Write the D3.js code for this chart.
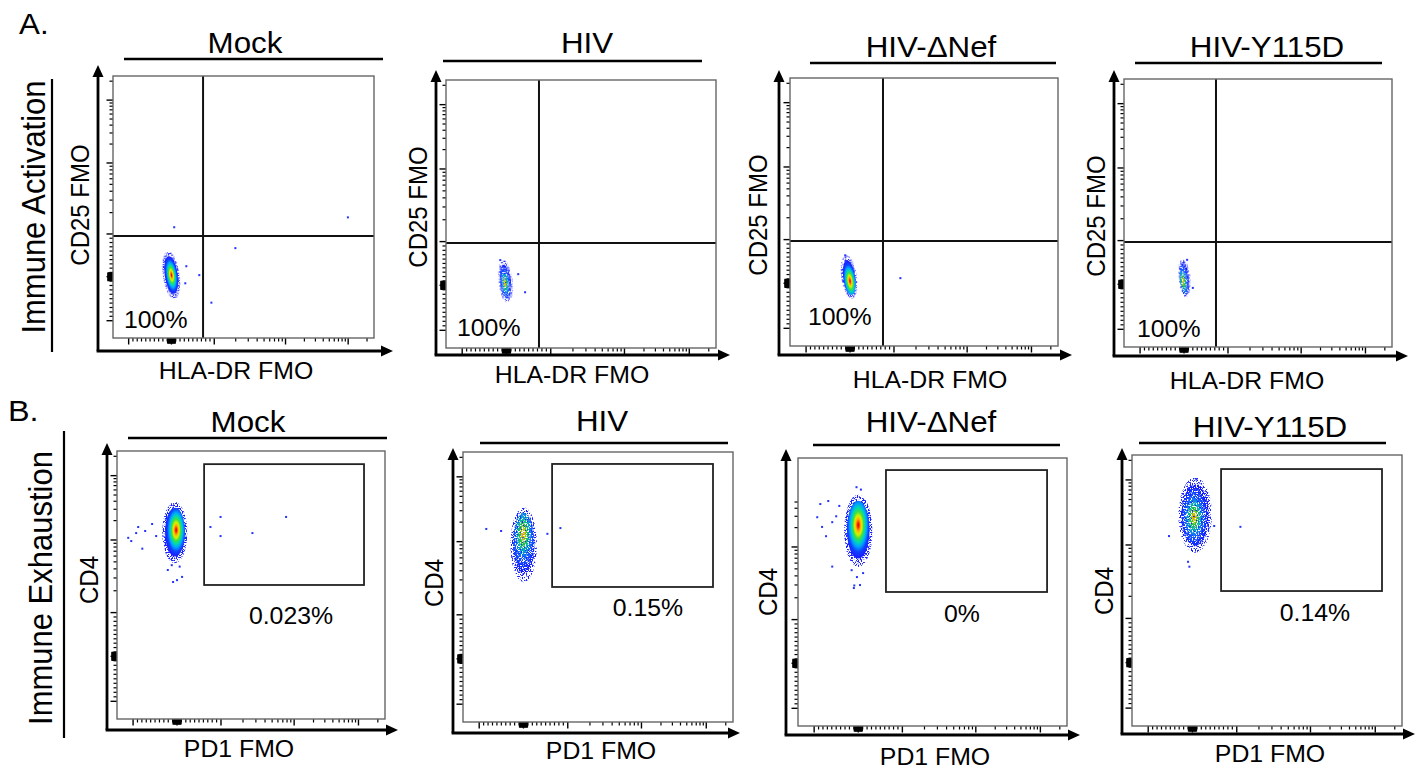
<!DOCTYPE html>
<html>
<head>
<meta charset="utf-8">
<script src="https://cdn.jsdelivr.net/npm/d3@7"></script>
<style>
  html, body { margin: 0; padding: 0; background: #ffffff; }
  svg { display: block; }
  text { font-family: "Liberation Sans", Arial, Helvetica, sans-serif; fill: #000; }
</style>
</head>
<body>
<svg id="chart" width="1424" height="769"></svg>
<script>
// ================= DATA =================
const rowLetters = ["A.", "B."];
const rowTitles = ["Immune Activation", "Immune Exhaustion"];
const conditions = ["Mock", "HIV", "HIV-ΔNef", "HIV-Y115D"];
const xAxisLabels = ["HLA-DR FMO", "PD1 FMO"];
const yAxisLabels = ["CD25 FMO", "CD4"];
const activationPercents = ["100%", "100%", "100%", "100%"];
const exhaustionPercents = ["0.023%", "0.15%", "0%", "0.14%"];

// biexponential axis ticks (channel values)
const majorTickValues = [-1000, 0, 1000, 10000, 100000];
const minorTickValues = [-900, -800, -700, -600, -500, -400, -300, -200, -100,
  100, 200, 300, 400, 500, 600, 700, 800, 900,
  2000, 3000, 4000, 5000, 6000, 7000, 8000, 9000,
  20000, 30000, 40000, 50000, 60000, 70000, 80000, 90000, 200000];
const nearZeroTickValues = [-90, -80, -70, -60, -50, -40, -30, -20, -10,
  10, 20, 30, 40, 50, 60, 70, 80, 90];
const activationYTickMax = [300000, 300000, 300000, 300000];
const exhaustionYTickMax = [300000, 300000, 50000, 300000];

// quadrant gate thresholds (HLA-DR, CD25)
const activationGateX = [738, 734, 750, 727];
const activationGateY = [951, 969, 969, 969];
// PD1+ rectangle gate: [low, high]
const exhaustionGateX = [[616, 122000], [646, 127000], [628, 127000], [646, 127000]];
const exhaustionGateY = [[2400, 151000], [2400, 158000], [2400, 157000], [2360, 147000]];

// cell populations: densest point, x extent and y extent
const activationCore = [[0, 37], [-30, 50], [0, 50], [-20, 70]];
const activationSpreadX = [[-195, 184], [-165, 130], [-180, 165], [-110, 141]];
const activationSpreadY = [[-500, 595], [-360, 550], [-337, 644], [-270, 552]];
const exhaustionCore = [[-20, 14260], [-5, 13200], [0, 21900], [37, 27000]];
const exhaustionSpreadX = [[-335, 233], [-280, 290], [-320, 320], [-300, 420]];
const exhaustionSpreadY = [[4800, 38800], [2950, 31800], [5300, 65000], [8300, 103000]];
const eventDensity = ["dense", "sparse", "dense", "sparse"];

// isolated events
const activationOutliers = [
  [[64, 1245], [1977, 669], [933, -590], [99000, 1714], [650, 37], [347, 245], [323, -150]],
  [[265, 255], [420, -155], [-140, 577]],
  [[1223, 118], [-110, 640]],
  [[200, -80], [70, 560]]
];
const exhaustionOutliers = [
  [[-1290, 10800], [-1100, 9660], [-930, 12800], [-884, 15900], [-790, 7590], [-725, 13800],
   [-567, 17700], [-475, 11500], [760, 15900], [990, 22800], [990, 11500], [2690, 12800], [7760, 22800],
   [-90, 2640], [0, 2800], [115, 3100], [-210, 3860], [60, 4300], [-120, 4500]],
  [[-840, 15700], [-505, 14600], [540, 13200], [834, 16200]],
  [[-860, 46500], [-680, 51800], [-930, 29000], [-820, 20500], [-730, 14700], [-590, 24300],
   [-430, 43500], [-590, 5370], [-90, 2950], [-500, 30000],
   [-100, 2720], [40, 2990], [-30, 3850], [110, 4370], [-150, 4790], [-40, 85000], [60, 78000]],
  [[-530, 13700], [1120, 19000], [490, 19600], [-70, 5060], [-100, 5900], [90, 103000]]
];

// ================= LAYOUT (positions / styles) =================
const X_FRACS = [0.06, 0.224, 0.388, 0.661, 0.901];
const Y_FRACS = [0.066, 0.234, 0.397, 0.668, 0.908];
const SX = 1.08;
const layout = [
  {box:[113,76,261,262], ax:98, ay:351, top:65, right:393, title:[245,53], line:[124,383,59], pct:[124,328,"start"], xl:[236,379], yl:[89,205], tilt:-8},
  {box:[446,80,270,268], ax:436, ay:355, top:70, right:730, title:[587,53], line:[443,702,61], pct:[457,336,"start"], xl:[572,383], yl:[427,207], tilt:-6},
  {box:[790,78,268,268], ax:779, ay:355, top:70, right:1072, title:[931,57], line:[810,1056,63], pct:[808,325,"start"], xl:[930,388], yl:[767,215], tilt:-8},
  {box:[1124,79,268,268], ax:1114, ay:356, top:70, right:1408, title:[1267,57], line:[1135,1382,63], pct:[1137,337,"start"], xl:[1247,389], yl:[1105,216], tilt:-5},
  {box:[117,451,268,268], ax:107, ay:730, top:443, right:398, title:[248,432], line:[128,387,438], pct:[291,624,"middle"], xl:[239,757], yl:[98,580], tilt:0},
  {box:[463,452,270,270], ax:453, ay:733, top:448, right:740, title:[602,431], line:[480,728,443], pct:[648,616,"middle"], xl:[601,759], yl:[443,583], tilt:0},
  {box:[798,458,269,268], ax:786, ay:735, top:449, right:1080, title:[931,432], line:[813,1060,445], pct:[962,622,"middle"], xl:[935,765], yl:[777,592], tilt:0},
  {box:[1132,455,270,271], ax:1122, ay:734, top:448, right:1415, title:[1270,437], line:[1139,1386,443], pct:[1315,621,"middle"], xl:[1270,762], yl:[1113,591], tilt:0}
];

// ================= DRAWING =================
const svg = d3.select("#chart");
svg.append("rect").attr("width", 1424).attr("height", 769).attr("fill", "#fff");
const defs = svg.append("defs");

function speckleFilter(id, slope, intercept, seed) {
  const f = defs.append("filter").attr("id", id)
    .attr("x", "-10%").attr("y", "-10%").attr("width", "120%").attr("height", "120%")
    .attr("color-interpolation-filters", "sRGB");
  f.append("feTurbulence").attr("type", "fractalNoise").attr("baseFrequency", 0.8)
    .attr("numOctaves", 1).attr("seed", seed).attr("result", "noise");
  f.append("feColorMatrix").attr("in", "noise").attr("type", "matrix")
    .attr("values", `0 0 0 0 0  0 0 0 0 0  0 0 0 0 0  ${slope} 0 0 0 ${intercept}`)
    .attr("result", "mask");
  f.append("feComposite").attr("in", "SourceGraphic").attr("in2", "mask").attr("operator", "in");
}
speckleFilter("speckleHalo", 14, -6.8, 5);
speckleFilter("speckleSparse", 12, -5.0, 9);
speckleFilter("speckleSparseOuter", 14, -7.2, 3);

const denseStops = [[0, "#c80000"], [0.08, "#ff3000"], [0.18, "#ffb000"], [0.28, "#d8f000"],
  [0.4, "#40e040"], [0.52, "#00d8b0"], [0.65, "#00a0ff"], [0.8, "#1040ff"], [1, "#1a1aff"]];
const sparseStops = [[0, "#ff7000"], [0.12, "#c8d800"], [0.26, "#20c040"], [0.42, "#00b0c0"],
  [0.6, "#1060ff"], [1, "#1010ff"]];

function makeScale(fracs, start, length, invert) {
  const linPart = d3.scaleLinear().domain([-1000, 1000]).range([-1, 1]);
  const logPart = d3.scaleLog().domain([1000, 10000]).range([1, 2]);
  const pos = d3.scaleLinear().domain([-1, 0, 1, 2, 3])
    .range(fracs.map(f => invert ? start + length - f * length : start + f * length));
  return v => pos(Math.abs(v) <= 1000 ? linPart(v) : Math.sign(v) * logPart(Math.abs(v)));
}

function hText(parent, str, x, y, size, anchor) {
  parent.append("text")
    .attr("transform", `translate(${x},${y}) scale(${SX},1)`)
    .attr("text-anchor", anchor).attr("font-size", size).text(str);
}
function vText(parent, str, x, y, size) {
  parent.append("text")
    .attr("transform", `translate(${x},${y}) rotate(-90) scale(1,${SX})`)
    .attr("text-anchor", "middle").attr("font-size", size).text(str);
}

let gradCount = 0;
function addGradient(stops, fx, fy) {
  const id = "g" + (gradCount++);
  const r = 0.5 + Math.max(Math.abs(fx - 0.5), Math.abs(fy - 0.5));
  const g = defs.append("radialGradient").attr("id", id)
    .attr("cx", fx).attr("cy", fy).attr("fx", fx).attr("fy", fy).attr("r", r);
  stops.forEach(s => g.append("stop").attr("offset", s[0]).attr("stop-color", s[1]));
  return id;
}

function drawCloud(g, sx, sy, core, spreadX, spreadY, density, tilt) {
  const x0 = sx(spreadX[0]), x1 = sx(spreadX[1]);
  const y0 = sy(spreadY[1]), y1 = sy(spreadY[0]);
  const cx = (x0 + x1) / 2, cy = (y0 + y1) / 2;
  const rx = (x1 - x0) / 2, ry = (y1 - y0) / 2;
  const px = sx(core[0]), py = sy(core[1]);
  const cg = g.append("g").attr("transform", `rotate(${tilt},${px},${py})`);
  if (density === "dense") {
    cg.append("ellipse").attr("cx", cx).attr("cy", cy).attr("rx", rx).attr("ry", ry)
      .attr("fill", "#1a22ff").attr("filter", "url(#speckleHalo)");
    const k = 0.8;
    const irx = rx * k, iry = ry * k;
    const icx = cx + (px - cx) * (1 - k), icy = cy + (py - cy) * (1 - k);
    const fx = (px - (icx - irx)) / (2 * irx), fy = (py - (icy - iry)) / (2 * iry);
    const id = addGradient(denseStops, fx, fy);
    cg.append("ellipse").attr("cx", icx).attr("cy", icy).attr("rx", irx).attr("ry", iry)
      .attr("fill", `url(#${id})`);
  } else {
    cg.append("ellipse").attr("cx", cx).attr("cy", cy).attr("rx", rx * 1.05).attr("ry", ry * 1.05)
      .attr("fill", "#1a22ff").attr("filter", "url(#speckleSparseOuter)");
    const k = 0.85;
    const irx = rx * k, iry = ry * k;
    const icx = cx + (px - cx) * (1 - k), icy = cy + (py - cy) * (1 - k);
    const fx = (px - (icx - irx)) / (2 * irx), fy = (py - (icy - iry)) / (2 * iry);
    const id = addGradient(sparseStops, fx, fy);
    cg.append("ellipse").attr("cx", icx).attr("cy", icy).attr("rx", irx).attr("ry", iry)
      .attr("fill", `url(#${id})`).attr("filter", "url(#speckleSparse)");
  }
}

function drawPanel(row, col) {
  const L = layout[row * 4 + col];
  const [bx, by, bw, bh] = L.box;
  const g = svg.append("g");
  const sx = makeScale(X_FRACS, bx, bw, false);
  const sy = makeScale(Y_FRACS, by, bh, true);
  const yMax = row === 0 ? activationYTickMax[col] : exhaustionYTickMax[col];

  // ticks
  const tickSets = [[majorTickValues, 6.5, 1.4], [nearZeroTickValues, 5.5, 1.3], [minorTickValues, 3.5, 1.2]];
  tickSets.forEach(([vals, len, w]) => {
    vals.forEach(v => {
      const x = sx(v);
      if (x >= bx && x <= bx + bw) {
        g.append("line").attr("x1", x).attr("x2", x).attr("y1", by + bh).attr("y2", by + bh + len)
          .attr("stroke", "#000").attr("stroke-width", w);
      }
      const y = sy(v);
      if (y >= by && y <= by + bh && v <= yMax) {
        g.append("line").attr("x1", bx - len).attr("x2", bx).attr("y1", y).attr("y2", y)
          .attr("stroke", "#000").attr("stroke-width", w);
      }
    });
  });

  // population
  const core = row === 0 ? activationCore[col] : exhaustionCore[col];
  const spX = row === 0 ? activationSpreadX[col] : exhaustionSpreadX[col];
  const spY = row === 0 ? activationSpreadY[col] : exhaustionSpreadY[col];
  drawCloud(g, sx, sy, core, spX, spY, eventDensity[col], L.tilt);

  const outs = row === 0 ? activationOutliers[col] : exhaustionOutliers[col];
  g.selectAll(null).data(outs).enter().append("rect")
    .attr("x", d => sx(d[0]) - 1).attr("y", d => sy(d[1]) - 1)
    .attr("width", 2).attr("height", 2).attr("fill", "#2233ff");

  // gates
  if (row === 0) {
    const gx = sx(activationGateX[col]), gy = sy(activationGateY[col]);
    g.append("line").attr("x1", gx).attr("x2", gx).attr("y1", by).attr("y2", by + bh)
      .attr("stroke", "#111").attr("stroke-width", 2);
    g.append("line").attr("x1", bx).attr("x2", bx + bw).attr("y1", gy).attr("y2", gy)
      .attr("stroke", "#111").attr("stroke-width", 2);
  } else {
    const gx0 = sx(exhaustionGateX[col][0]), gx1 = sx(exhaustionGateX[col][1]);
    const gy0 = sy(exhaustionGateY[col][1]), gy1 = sy(exhaustionGateY[col][0]);
    g.append("rect").attr("x", gx0).attr("y", gy0).attr("width", gx1 - gx0).attr("height", gy1 - gy0)
      .attr("fill", "none").attr("stroke", "#222").attr("stroke-width", 1.8);
  }

  // plot frame
  g.append("rect").attr("x", bx).attr("y", by).attr("width", bw).attr("height", bh)
    .attr("fill", "none").attr("stroke", "#666").attr("stroke-width", 1.4);

  // arrow axes
  g.append("line").attr("x1", L.ax).attr("x2", L.ax).attr("y1", L.ay).attr("y2", L.top + 8)
    .attr("stroke", "#000").attr("stroke-width", 2.8);
  g.append("line").attr("x1", L.ax - 1.4).attr("x2", L.right - 8).attr("y1", L.ay).attr("y2", L.ay)
    .attr("stroke", "#000").attr("stroke-width", 2.8);
  g.append("path").attr("d", `M${L.ax - 5.5},${L.top + 12}L${L.ax},${L.top}L${L.ax + 5.5},${L.top + 12}Z`).attr("fill", "#000");
  g.append("path").attr("d", `M${L.right - 12},${L.ay - 5.5}L${L.right},${L.ay}L${L.right - 12},${L.ay + 5.5}Z`).attr("fill", "#000");

  // title + underline
  hText(g, conditions[col], L.title[0], L.title[1], 29, "middle");
  g.append("line").attr("x1", L.line[0]).attr("x2", L.line[1]).attr("y1", L.line[2]).attr("y2", L.line[2])
    .attr("stroke", "#000").attr("stroke-width", 2.6);

  // percentage
  hText(g, row === 0 ? activationPercents[col] : exhaustionPercents[col], L.pct[0], L.pct[1], 23, L.pct[2]);

  // axis labels
  hText(g, xAxisLabels[row], L.xl[0], L.xl[1], 23, "middle");
  vText(g, yAxisLabels[row], L.yl[0], L.yl[1], 24);
}

for (let r = 0; r < 2; r++) for (let c = 0; c < 4; c++) drawPanel(r, c);

// row annotations
hText(svg, rowLetters[0], 19, 34, 29, "start");
hText(svg, rowLetters[1], 8, 421, 30, "start");
vText(svg, rowTitles[0], 45, 207, 31);
vText(svg, rowTitles[1], 52, 588, 31);
svg.append("line").attr("x1", 52).attr("x2", 52).attr("y1", 79).attr("y2", 352).attr("stroke", "#000").attr("stroke-width", 2.2);
svg.append("line").attr("x1", 64).attr("x2", 64).attr("y1", 431).attr("y2", 738).attr("stroke", "#000").attr("stroke-width", 2.2);
</script>
</body>
</html>
